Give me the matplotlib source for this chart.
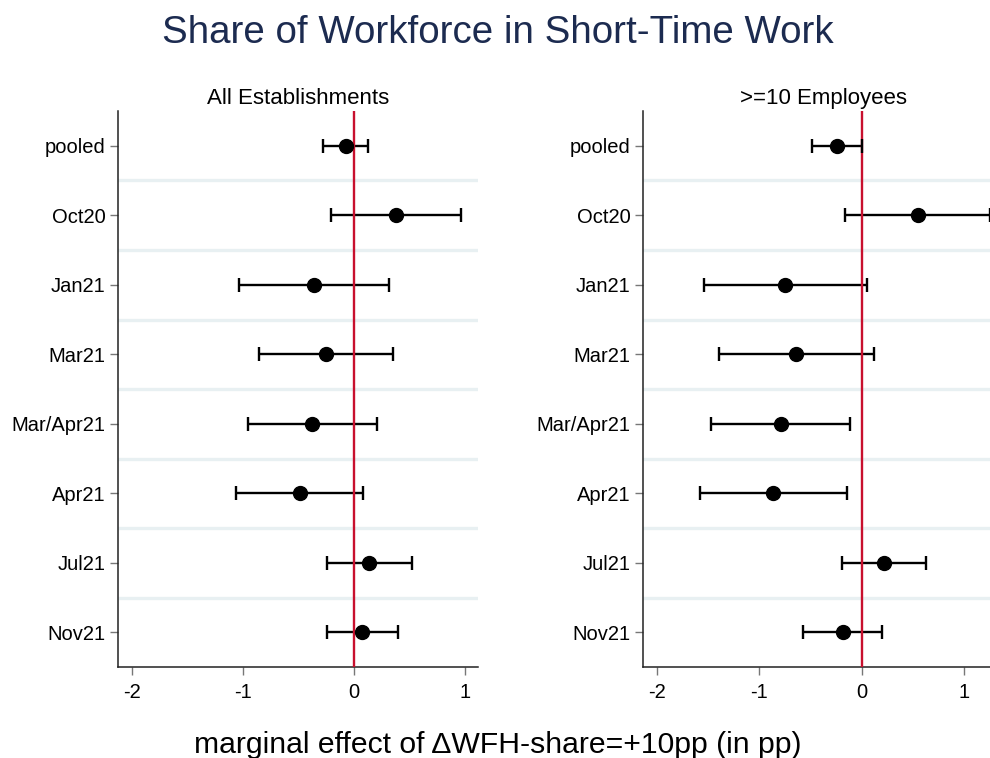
import matplotlib
matplotlib.use("Agg")
import matplotlib.pyplot as plt
import numpy as np

plt.rcParams['font.family'] = ['Liberation Sans', 'DejaVu Sans']

# rows, top to bottom
labels = ['pooled', 'Oct20', 'Jan21', 'Mar21', 'Mar/Apr21', 'Apr21', 'Jul21', 'Nov21']

# All Establishments: point estimate and 95% CI
all_est = [-0.075, 0.381, -0.363, -0.249, -0.375, -0.489, 0.138, 0.075]
all_lo = [-0.282, -0.204, -1.036, -0.856, -0.958, -1.066, -0.240, -0.240]
all_hi = [0.129, 0.961, 0.312, 0.351, 0.210, 0.081, 0.523, 0.394]

# >=10 Employees
big_est = [-0.241, 0.543, -0.748, -0.641, -0.793, -0.862, 0.218, -0.185]
big_lo = [-0.488, -0.169, -1.541, -1.389, -1.473, -1.577, -0.189, -0.576]
big_hi = [0.000, 1.245, 0.052, 0.114, -0.117, -0.146, 0.621, 0.198]

xticks = [-2, -1, 0, 1]

TITLE_COL = '#1c2b50'
RED = '#c8102e'
SEP_COL = '#e8f0f2'


def panel(ax, est, lo, hi, title, xlim):
    est = np.array(est)
    lo = np.array(lo)
    hi = np.array(hi)
    y = np.arange(len(labels))
    # light separators between rows
    for s in y[:-1] + 0.5:
        ax.axhline(s, color=SEP_COL, lw=2.4, zorder=1)
    ax.hlines(y, lo, hi, color='black', lw=1.7, zorder=2)
    ax.axvline(0, color=RED, lw=1.7, zorder=3)
    eb = ax.errorbar(est, y, xerr=[est - lo, hi - est], fmt='o', color='black',
                     ms=10, elinewidth=0, capsize=5, capthick=1.7)
    eb[0].set_zorder(5)
    for c in eb[1]:
        c.set_zorder(4)
    ax.set_ylim(len(labels) - 0.5, -0.5)
    ax.set_xlim(*xlim)
    ax.set_yticks(y, labels=labels)
    ax.set_xticks(xticks, labels=[str(t) for t in xticks])
    ax.tick_params(axis='both', length=6, width=1, color='#777777',
                   labelsize=14.5, pad=3)
    ax.tick_params(axis='x', pad=5)
    for side in ['top', 'right']:
        ax.spines[side].set_visible(False)
    for side in ['left', 'bottom']:
        ax.spines[side].set_linewidth(1.1)
        ax.spines[side].set_color('#222222')
    ax.set_title(title, fontsize=16, pad=5)


fig = plt.figure(figsize=(9.9, 7.58), dpi=100)
ax1 = fig.add_axes([0.1192, 0.1197, 0.3636, 0.734])
ax2 = fig.add_axes([0.6498, 0.1197, 0.3636, 0.734])

panel(ax1, all_est, all_lo, all_hi, 'All Establishments', (-2.126, 1.117))
panel(ax2, big_est, big_lo, big_hi, '>=10 Employees', (-2.131, 1.379))

fig.text(0.503, 0.956, 'Share of Workforce in Short-Time Work', ha='center',
         va='center', fontsize=27.7, color=TITLE_COL)
fig.text(0.503, 0.017, 'marginal effect of \u0394WFH-share=+10pp (in pp)',
         ha='center', va='center', fontsize=21.7)

fig.savefig('out.png', dpi=100)
